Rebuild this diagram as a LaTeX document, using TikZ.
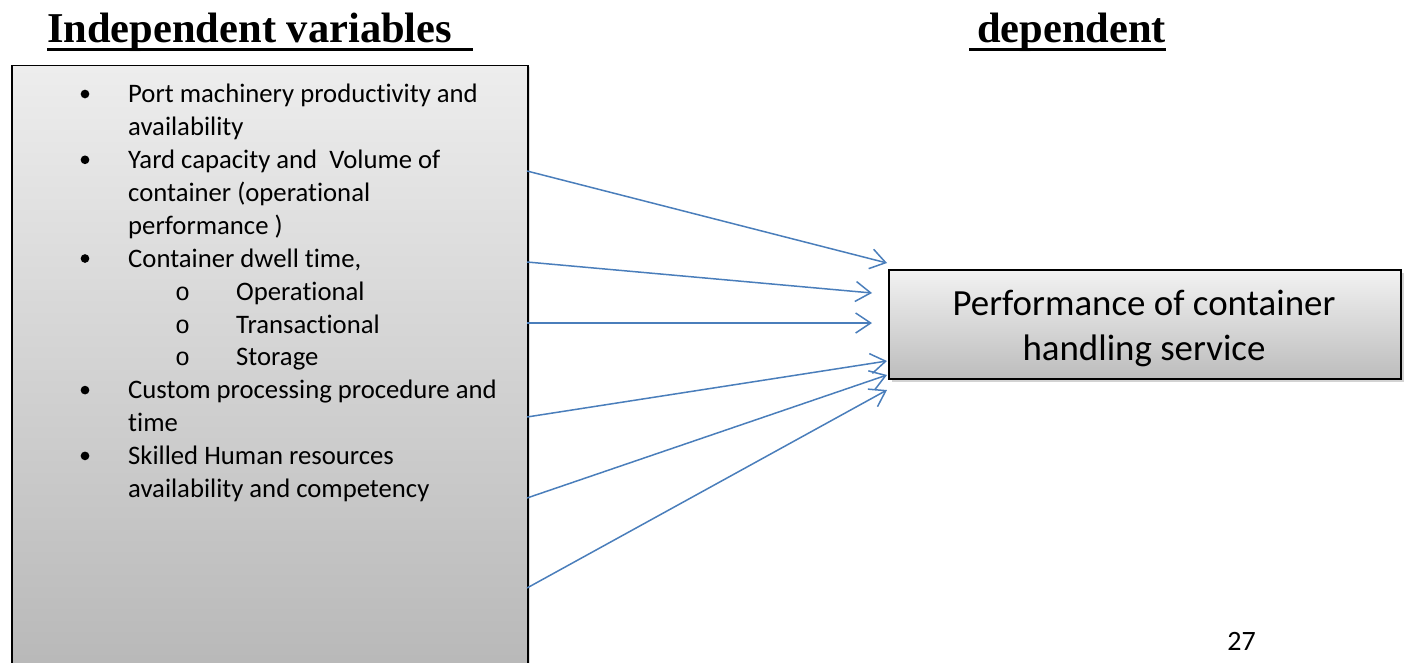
\documentclass[tikz,border=0pt]{standalone}
\usepackage{fontspec}
\setmainfont{Carlito}[Ligatures=NoCommon]
\newfontfamily\headfont{Liberation Serif}
\newfontfamily\subbulletfont{Liberation Mono}
\usetikzlibrary{arrows.meta,shadows}

\definecolor{linkblue}{RGB}{74,126,187}

\begin{document}
\begin{tikzpicture}[x=1pt,y=-1pt,
  heading/.style={font=\headfont\bfseries\fontsize{42.5}{50}\selectfont, inner sep=0, anchor=base west},
  itemtext/.style={font=\fontsize{26.7}{32.9}\selectfont, inner sep=0, anchor=base west},
  boxtext/.style={font=\fontsize{36.9}{45}\selectfont, inner sep=0, anchor=base},
  dot/.style={circle, fill=black, inner sep=0, minimum size=8.7pt},
  subdot/.style={font=\subbulletfont\fontsize{25}{32.9}\selectfont, inner sep=0, anchor=base},
  link/.style={draw=linkblue, line width=1.5pt,
    -{Straight Barb[length=15pt,width=20pt,line width=1.5pt]}},
  uline/.style={line width=3.5pt},
]
\useasboundingbox (0,0) rectangle (1406,662);
\clip (0,0) rectangle (1406,662);

% headings
\node[heading] (hind) at (47,42) {Independent variables};
\node[heading] (hdep) at (977,42) {dependent};
\draw[uline] ([yshift=-7.5pt]hind.base west) -- ++(426,0);
\draw[uline] ([yshift=-7.5pt]hdep.base west) ++(-8,0) -- ++(197,0);

% independent variables box (runs past the lower edge)
\node[draw=black, line width=1.8pt, top color=black!7, bottom color=black!29,
      drop shadow={shadow xshift=2pt, shadow yshift=-2pt, opacity=0.25},
      minimum width=516pt, minimum height=640pt, inner sep=0, anchor=north west]
      (L) at (11,64.5) {};

% dependent variable box
\node[draw=black, line width=1.6pt, top color=black!5, bottom color=black!26,
      drop shadow={shadow xshift=3pt, shadow yshift=-3pt, opacity=0.35},
      minimum width=512pt, minimum height=109pt, inner sep=0, anchor=north west]
      (R) at (888,269) {};
\node[boxtext] (r1) at (1144,315) {Performance of container};
\node[boxtext] (r2) at (1144,360) {handling service};

% list of independent variables
\node[itemtext] (l1)  at (128,102.7) {Port machinery productivity and};
\node[itemtext] (l2)  at (128,135.6) {availability};
\node[itemtext] (l3)  at (128,168.5) {Yard capacity and~ Volume of};
\node[itemtext] (l4)  at (128,201.4) {container (operational};
\node[itemtext] (l5)  at (128,234.3) {performance )};
\node[itemtext] (l6)  at (128,267.2) {Container dwell time,};
\node[itemtext] (l7)  at (236,300.1) {Operational};
\node[itemtext] (l8)  at (236,333.0) {Transactional};
\node[itemtext] (l9)  at (236,365.9) {Storage};
\node[itemtext] (l10) at (128,398.8) {Custom processing procedure and};
\node[itemtext] (l11) at (128,431.7) {time};
\node[itemtext] (l12) at (128,464.6) {Skilled Human resources};
\node[itemtext] (l13) at (128,497.5) {availability and competency};

\node[dot] (b1) at (85,94.0) {};
\node[dot] (b2) at (85,159.8) {};
\node[dot] (b3) at (85,258.5) {};
\node[dot] (b4) at (85,390.1) {};
\node[dot] (b5) at (85,455.9) {};

\node[subdot] (o1) at (182.7,300.1) {o};
\node[subdot] (o2) at (182.7,333.0) {o};
\node[subdot] (o3) at (182.7,365.9) {o};

% connector end points
\coordinate (s1) at (527,171);  \coordinate (e1) at (887,263);
\coordinate (s2) at (527,262);  \coordinate (e2) at (872,293);
\coordinate (s3) at (527,323);  \coordinate (e3) at (872,323);
\coordinate (s4) at (527,417);  \coordinate (e4) at (887,361);
\coordinate (s5) at (527,498);  \coordinate (e5) at (887,375);
\coordinate (s6) at (527,588);  \coordinate (e6) at (887,390);

\foreach \i in {1,...,6} { \draw[link] (s\i) -- (e\i); }

% page number
\node[font=\fontsize{28}{34}\selectfont, inner sep=0, anchor=base] (pg) at (1241.5,650) {27};
\end{tikzpicture}
\end{document}
